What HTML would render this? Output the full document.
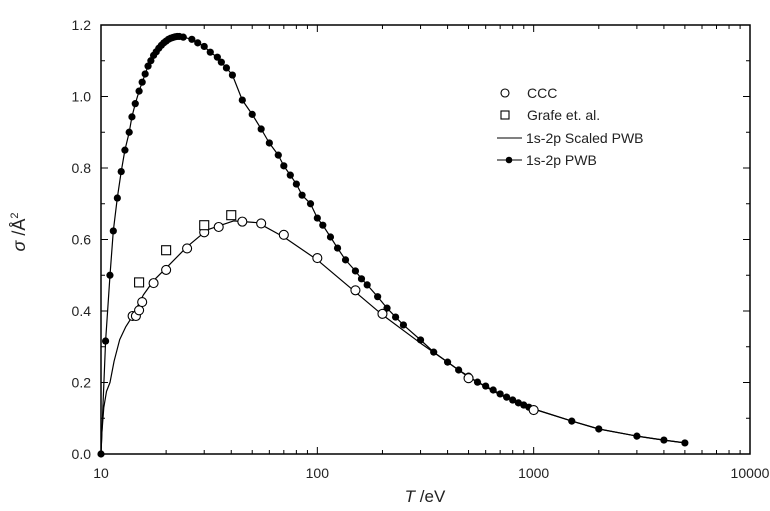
<!DOCTYPE html>
<html><head><meta charset="utf-8"><style>
html,body{margin:0;padding:0;background:#fff;}
svg{display:block;font-family:"Liberation Sans",sans-serif;}
</style></head><body>
<svg id="chart" width="770" height="511" viewBox="0 0 770 511"></svg>
<script>
const pwbT=[10,10.5,11,11.4,11.9,12.4,12.9,13.5,13.9,14.4,15,15.5,16,16.5,17,17.5,18,18.5,19,19.5,20,20.5,21,21.5,22,22.5,23,24,26.3,28,30,32,34.5,36,38,40.5,45,50,55,60,66,70,75,80,85,93,100,106,115,124,135,150,160,170,190,210,230,250,300,345,400,450,500,550,600,650,700,750,800,850,900,950,1000,1500,2000,3000,4000,5000];
const pwbS=[0,0.316,0.50,0.624,0.716,0.79,0.85,0.90,0.943,0.98,1.015,1.04,1.063,1.085,1.10,1.115,1.125,1.135,1.143,1.15,1.155,1.16,1.163,1.165,1.167,1.168,1.168,1.166,1.16,1.15,1.14,1.124,1.11,1.096,1.08,1.06,0.99,0.95,0.909,0.87,0.836,0.806,0.78,0.755,0.724,0.70,0.66,0.64,0.607,0.576,0.543,0.512,0.49,0.473,0.44,0.408,0.383,0.361,0.319,0.285,0.257,0.235,0.218,0.201,0.19,0.179,0.168,0.159,0.151,0.143,0.137,0.131,0.126,0.092,0.07,0.05,0.039,0.031];
const scaledT=[10,10.1,10.3,10.6,11,11.5,12.2,13,13.9,15.7,17.5,20,25,31,41,53,70,100,146,200,300,400,500,700,1000,1500,2000,3000,4000,5000];
const scaledS=[0,0.06,0.13,0.175,0.2,0.26,0.32,0.355,0.383,0.445,0.485,0.52,0.58,0.627,0.652,0.647,0.607,0.543,0.459,0.389,0.31,0.257,0.215,0.165,0.126,0.092,0.07,0.05,0.039,0.031];
const cccT=[14,14.5,15,15.5,17.5,20,25,30,35,45,55,70,100,150,200,500,1000];
const cccS=[0.386,0.386,0.402,0.425,0.478,0.515,0.575,0.62,0.635,0.65,0.645,0.613,0.548,0.458,0.392,0.212,0.123];
const grafeT=[15,20,30,40];
const grafeS=[0.48,0.57,0.64,0.668];
const xTickLabels=["10","100","1000","10000"];
const yTickLabels=["0.0","0.2","0.4","0.6","0.8","1.0","1.2"];

const L=101,R=750,T=25,B=454;
const xs=v=>L+(Math.log10(v)-1)/3*(R-L);
const ys=v=>B-v/1.2*(B-T);
const svg=document.getElementById('chart');
const NS='http://www.w3.org/2000/svg';
function mk(tag,attrs,parent){const e=document.createElementNS(NS,tag);for(const k in attrs)e.setAttribute(k,attrs[k]);(parent||svg).appendChild(e);return e;}

const frame=mk('rect',{x:L,y:T,width:R-L,height:B-T,fill:'none',stroke:'#000','stroke-width':1.5});



const ax=mk('g',{stroke:'#000','stroke-width':1});


for(let d=10;d<10000;d*=10){for(let m=1;m<10;m++){const x=xs(d*m);const len=m===1?7:4;
 mk('line',{x1:x,y1:B,x2:x,y2:B-len},ax);mk('line',{x1:x,y1:T,x2:x,y2:T+len},ax);}}
for(let i=0;i<=12;i++){const y=ys(i*0.1);const len=i%2===0?7:4;
 mk('line',{x1:L,y1:y,x2:L+len,y2:y},ax);mk('line',{x1:R,y1:y,x2:R-len,y2:y},ax);}

xTickLabels.forEach((t,i)=>{const e=mk('text',{x:xs(Math.pow(10,i+1)),y:478,'text-anchor':'middle','font-size':14,fill:'#222'});e.textContent=t;
 
 });
yTickLabels.forEach((t,i)=>{const e=mk('text',{x:91,y:ys(i*0.2)+5,'text-anchor':'end','font-size':14,fill:'#222'});e.textContent=t;
 
 });

const xt=mk('text',{x:425,y:502,'text-anchor':'middle','font-size':17,fill:'#222'});
xt.innerHTML='<tspan font-style="italic">T</tspan> /eV';


const yt=mk('text',{x:0,y:0,'text-anchor':'middle','font-size':18,fill:'#222',transform:'translate(25,232) rotate(-90)'});
yt.innerHTML='<tspan font-style="italic">σ</tspan> /Å<tspan dy="-7" font-size="11">2</tspan>';



function path(T_,S_){return T_.map((t,i)=>(i?'L':'M')+xs(t).toFixed(1)+','+ys(S_[i]).toFixed(1)).join(' ');}
const sl=mk('path',{d:path(scaledT,scaledS),fill:'none',stroke:'#000','stroke-width':1.2,'stroke-linejoin':'round'});


const pl=mk('path',{d:path(pwbT,pwbS),fill:'none',stroke:'#000','stroke-width':1.2,'stroke-linejoin':'round'});


pwbT.forEach((t,i)=>{const c=mk('circle',{cx:xs(t),cy:ys(pwbS[i]),r:3.6,fill:'#000'});
 
 });
cccT.forEach((t,i)=>{const c=mk('circle',{cx:xs(t),cy:ys(cccS[i]),r:4.5,fill:'#fff',stroke:'#000','stroke-width':1.1});
 
 });
grafeT.forEach((t,i)=>{const c=mk('rect',{x:xs(t)-4.5,y:ys(grafeS[i])-4.5,width:9,height:9,fill:'#fff',stroke:'#000','stroke-width':1.1});
 
 });

const lg=mk('g',{});


const labels=['CCC','Grafe et. al.','1s-2p Scaled PWB','1s-2p PWB'];
const ly=[93,115,138,160];
mk('circle',{cx:505,cy:ly[0],r:4,fill:'#fff',stroke:'#000','stroke-width':1.1},lg);
mk('rect',{x:501,y:ly[1]-4,width:8,height:8,fill:'#fff',stroke:'#000','stroke-width':1.1},lg);
mk('line',{x1:497,y1:ly[2],x2:522,y2:ly[2],stroke:'#000','stroke-width':1.1},lg);
mk('line',{x1:497,y1:ly[3],x2:522,y2:ly[3],stroke:'#000','stroke-width':1.1},lg);
mk('circle',{cx:509,cy:ly[3],r:3.3,fill:'#000'},lg);
labels.forEach((t,i)=>{const e=mk('text',{x:(i<2?527:526),y:ly[i]+5,'font-size':14,fill:'#222'},lg);e.textContent=t;
 
 });
</script>
</body></html>
